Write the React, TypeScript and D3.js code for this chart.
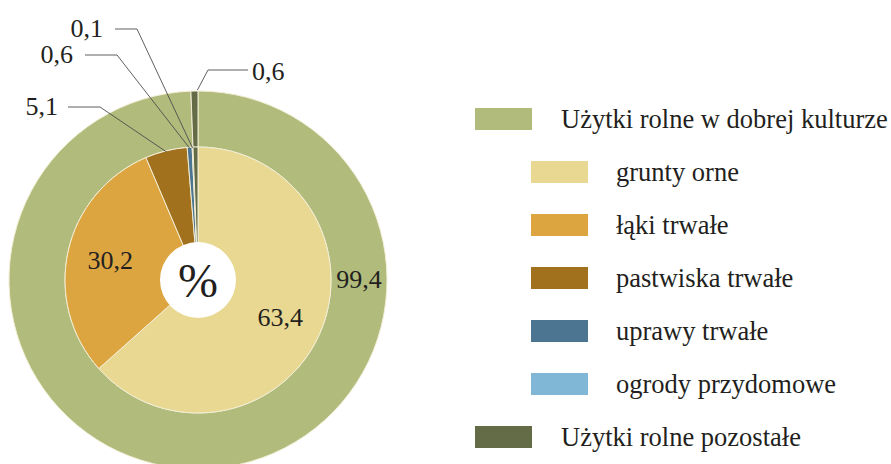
import React from "react";
import * as d3 from "d3";

// outer ring: agricultural land split
const outerNames = ["Użytki rolne w dobrej kulturze", "Użytki rolne pozostałe"];
const outerValues = [99.4, 0.6];

// inner pie: structure of the land in good condition (+ remaining land)
const innerNames = [
  "grunty orne",
  "łąki trwałe",
  "pastwiska trwałe",
  "uprawy trwałe",
  "ogrody przydomowe",
  "Użytki rolne pozostałe",
];
const innerValues = [63.4, 30.2, 5.1, 0.6, 0.1, 0.6];

// legend order, second field = indented sub item
const legendNames = [
  "Użytki rolne w dobrej kulturze",
  "grunty orne",
  "łąki trwałe",
  "pastwiska trwałe",
  "uprawy trwałe",
  "ogrody przydomowe",
  "Użytki rolne pozostałe",
];
const legendIndent = [false, true, true, true, true, true, false];

const colors: Record<string, string> = {
  "Użytki rolne w dobrej kulturze": "#b0bb7c",
  "grunty orne": "#e9d891",
  "łąki trwałe": "#dda540",
  "pastwiska trwałe": "#a2711d",
  "uprawy trwałe": "#4b7590",
  "ogrody przydomowe": "#80b6d6",
  "Użytki rolne pozostałe": "#636b47",
};

const W = 891;
const H = 464;
const cx = 198;
const cy = 280;
const holeR = 38;
const innerR = 133;
const outerR = 189;
const textColor = "#231f20";
const font = "Liberation Serif, Times New Roman, DejaVu Serif, serif";

const fmt = (v: number) => d3.format(".1f")(v).replace(".", ",");

// leader label placement (layout only)
const callouts: Record<string, { x: number; y: number; anchor: string; lineX: number; lineY: number; elbowX: number }> = {
  "pastwiska trwałe": { x: 58, y: 115, anchor: "end", lineX: 68, lineY: 107, elbowX: 100 },
  "uprawy trwałe": { x: 73, y: 63, anchor: "end", lineX: 85, lineY: 55, elbowX: 117 },
  "ogrody przydomowe": { x: 103, y: 37, anchor: "end", lineX: 115, lineY: 29, elbowX: 137 },
};
const outerCallout = { x: 252, y: 80, anchor: "start", lineX: 248, lineY: 70, elbowX: 208 };

function App() {
  const pie = d3
    .pie<number>()
    .sort(null)
    .value((d) => d);

  const outerArcs = pie(outerValues);
  const innerArcs = pie(innerValues);

  const ringArc = d3.arc<d3.PieArcDatum<number>>().innerRadius(innerR).outerRadius(outerR);
  const innerArc = d3.arc<d3.PieArcDatum<number>>().innerRadius(0).outerRadius(innerR);
  const labelArc = d3.arc<d3.PieArcDatum<number>>().innerRadius(90).outerRadius(90);

  const pointAt = (a: d3.PieArcDatum<number>, r: number) => {
    const mid = (a.startAngle + a.endAngle) / 2;
    return [r * Math.sin(mid), -r * Math.cos(mid)];
  };

  const legendY = d3
    .scalePoint<string>()
    .domain(legendNames)
    .range([108, 426]);

  // the 99,4 label sits at 3 o'clock in the middle of the ring
  const ringMid = (innerR + outerR) / 2;

  return (
    <svg
      width={W}
      height={H}
      style={{ position: "absolute", left: 0, top: 0, background: "#fff", fontFamily: font }}
    >
      <g transform={`translate(${cx},${cy})`}>
        {outerArcs.map((a, i) => (
          <path key={"o" + i} d={ringArc(a) || ""} fill={colors[outerNames[i]]} stroke="#f3eed6" strokeWidth={1} />
        ))}
        {innerArcs.map((a, i) => (
          <path key={"i" + i} d={innerArc(a) || ""} fill={colors[innerNames[i]]} stroke="#f3eed6" strokeWidth={1} />
        ))}
        <circle r={holeR} fill="#fff" />
        <text textAnchor="middle" y={17} fontSize={48} fill={textColor}>
          %
        </text>

        {/* big in-slice labels */}
        {innerArcs.slice(0, 2).map((a, i) => {
          const [x, y] = labelArc.centroid(a);
          return (
            <text key={"l" + i} x={x} y={y} dy="0.35em" textAnchor="middle" fontSize={26} fill={textColor}>
              {fmt(innerValues[i])}
            </text>
          );
        })}
        <text x={ringMid} y={0} dy="0.3em" textAnchor="middle" fontSize={26} fill={textColor}>
          {fmt(outerValues[0])}
        </text>
      </g>

      {/* leader labels for small inner slices */}
      {innerArcs.map((a, i) => {
        const c = callouts[innerNames[i]];
        if (!c) return null;
        const [px, py] = pointAt(a, innerR - 1);
        return (
          <g key={"c" + i}>
            <polyline
              points={`${c.lineX},${c.lineY} ${c.elbowX},${c.lineY} ${cx + px},${cy + py}`}
              fill="none"
              stroke="#4d4d4d"
              strokeWidth={0.9}
            />
            <text x={c.x} y={c.y} textAnchor={c.anchor} fontSize={26} fill={textColor}>
              {fmt(innerValues[i])}
            </text>
          </g>
        );
      })}

      {(() => {
        const c = outerCallout;
        const [px, py] = pointAt(outerArcs[1], outerR + 1);
        return (
          <g>
            <polyline
              points={`${c.lineX},${c.lineY} ${c.elbowX},${c.lineY} ${cx + px + 3},${cy + py}`}
              fill="none"
              stroke="#4d4d4d"
              strokeWidth={0.9}
            />
            <text x={c.x} y={c.y} textAnchor={c.anchor} fontSize={26} fill={textColor}>
              {fmt(outerValues[1])}
            </text>
          </g>
        );
      })()}

      {/* legend */}
      {legendNames.map((name, i) => {
        const y = legendY(name) || 0;
        const sx = legendIndent[i] ? 531 : 475;
        const tx = legendIndent[i] ? 616 : 561;
        return (
          <g key={"lg" + i}>
            <rect x={sx} y={y} width={57} height={22} fill={colors[name]} />
            <text x={tx} y={y + 20} fontSize={26.5} fill={textColor}>
              {name}
            </text>
          </g>
        );
      })}
    </svg>
  );
}

export default App;
